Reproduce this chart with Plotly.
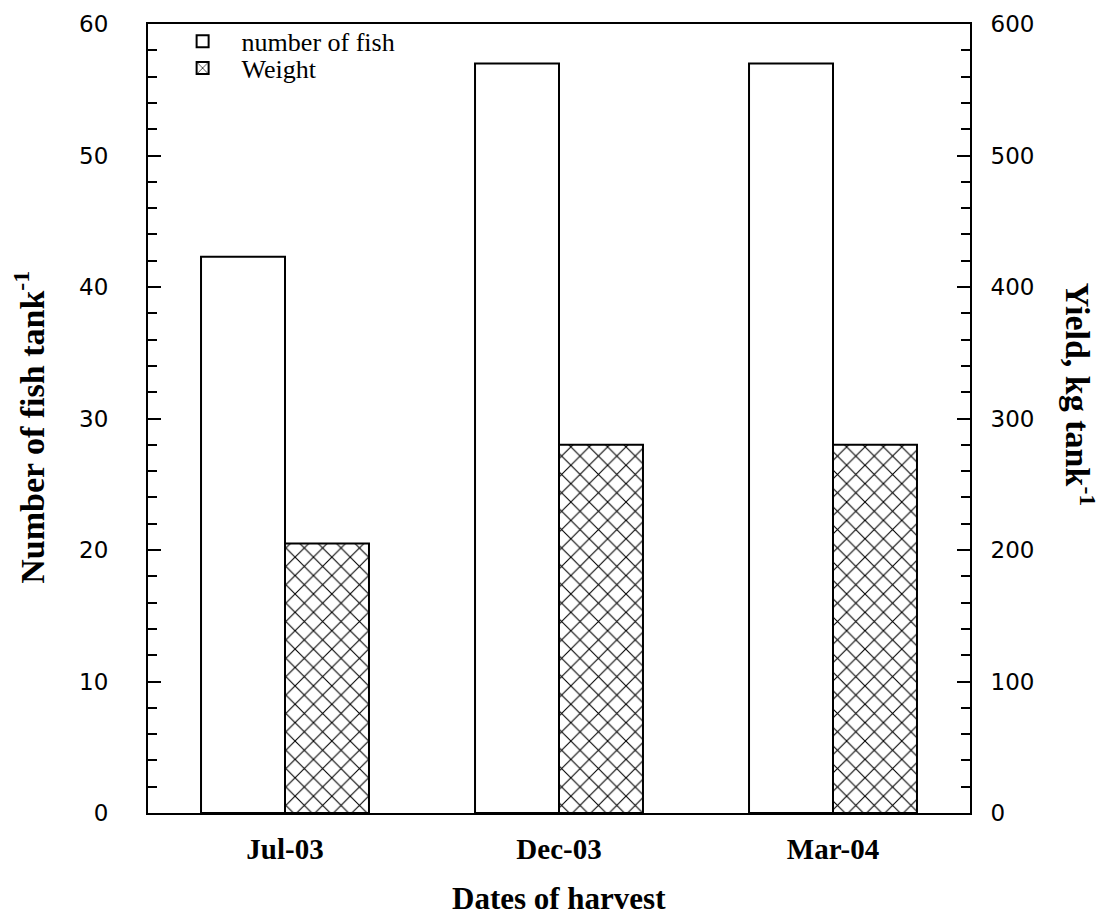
import plotly.graph_objects as go

categories = ["Jul-03", "Dec-03", "Mar-04"]
number_of_fish = [42.3, 57, 57]
weight = [205, 280, 280]

serif = "Liberation Serif"
fig = go.Figure()
fig.add_trace(go.Bar(
    x=categories, y=number_of_fish, name="number of fish",
    marker=dict(color="white", line=dict(color="black", width=2)),
    offsetgroup="1", yaxis="y", legend="legend",
))
fig.add_trace(go.Bar(
    x=categories, y=weight, name="Weight",
    marker=dict(color="white", line=dict(color="black", width=2),
                pattern=dict(shape="x", size=13, solidity=0.16, fgopacity=1,
                             fgcolor="black", bgcolor="white")),
    offsetgroup="2", yaxis="y2", legend="legend2",
))

tickfont = dict(family="DejaVu Sans", size=23, color="black")
legfont = dict(family=serif, size=26, color="black")
title_font = dict(family=serif, size=34, color="black", weight="bold")

# the page body adds an 8px offset; the figure is sized to compensate
fig.update_layout(
    width=1097, height=913,
    margin=dict(l=140, r=135, t=16, b=108, autoexpand=False),
    paper_bgcolor="white", plot_bgcolor="white",
    barmode="group", bargap=0.387, bargroupgap=0,
    showlegend=True,
    legend=dict(x=0.019, y=0.978, xanchor="left", yanchor="middle",
                bgcolor="rgba(0,0,0,0)", font=legfont, itemwidth=68),
    legend2=dict(x=0.019, y=0.944, xanchor="left", yanchor="middle",
                 bgcolor="rgba(0,0,0,0)", font=legfont, itemwidth=68),
    xaxis=dict(
        showline=True, linecolor="black", linewidth=2, mirror=True,
        ticks="", showgrid=False, automargin=False,
        tickfont=dict(family=serif, size=29, color="black", weight="bold"),
        ticklabelstandoff=9,
    ),
    yaxis=dict(
        range=[0, 60], dtick=10, showgrid=False, zeroline=False, automargin=False,
        showline=True, linecolor="black", linewidth=2,
        ticks="inside", ticklen=13, tickwidth=2, tickcolor="black",
        minor=dict(dtick=2, ticks="inside", ticklen=9, tickwidth=2, tickcolor="black"),
        tickfont=tickfont, ticklabelstandoff=33,
    ),
    yaxis2=dict(
        range=[0, 600], dtick=100, overlaying="y", side="right", showgrid=False,
        zeroline=False, automargin=False,
        showline=True, linecolor="black", linewidth=2,
        ticks="inside", ticklen=13, tickwidth=2, tickcolor="black",
        minor=dict(dtick=20, ticks="inside", ticklen=9, tickwidth=2, tickcolor="black"),
        tickfont=tickfont, ticklabelstandoff=14,
    ),
    annotations=[
        dict(text="Number of fish tank<sup>-1</sup>", textangle=-90,
             xref="paper", yref="paper", x=-0.144, y=0.489,
             xanchor="center", yanchor="middle", showarrow=False, font=title_font),
        dict(text="Yield, kg tank<sup>-1</sup>", textangle=90,
             xref="paper", yref="paper", x=1.134, y=0.53,
             xanchor="center", yanchor="middle", showarrow=False, font=title_font),
        dict(text="Dates of harvest",
             xref="paper", yref="paper", x=0.5, y=-0.108,
             xanchor="center", yanchor="middle", showarrow=False,
             font=dict(family=serif, size=31, color="black", weight="bold")),
    ],
)

fig.write_html("out.html")
